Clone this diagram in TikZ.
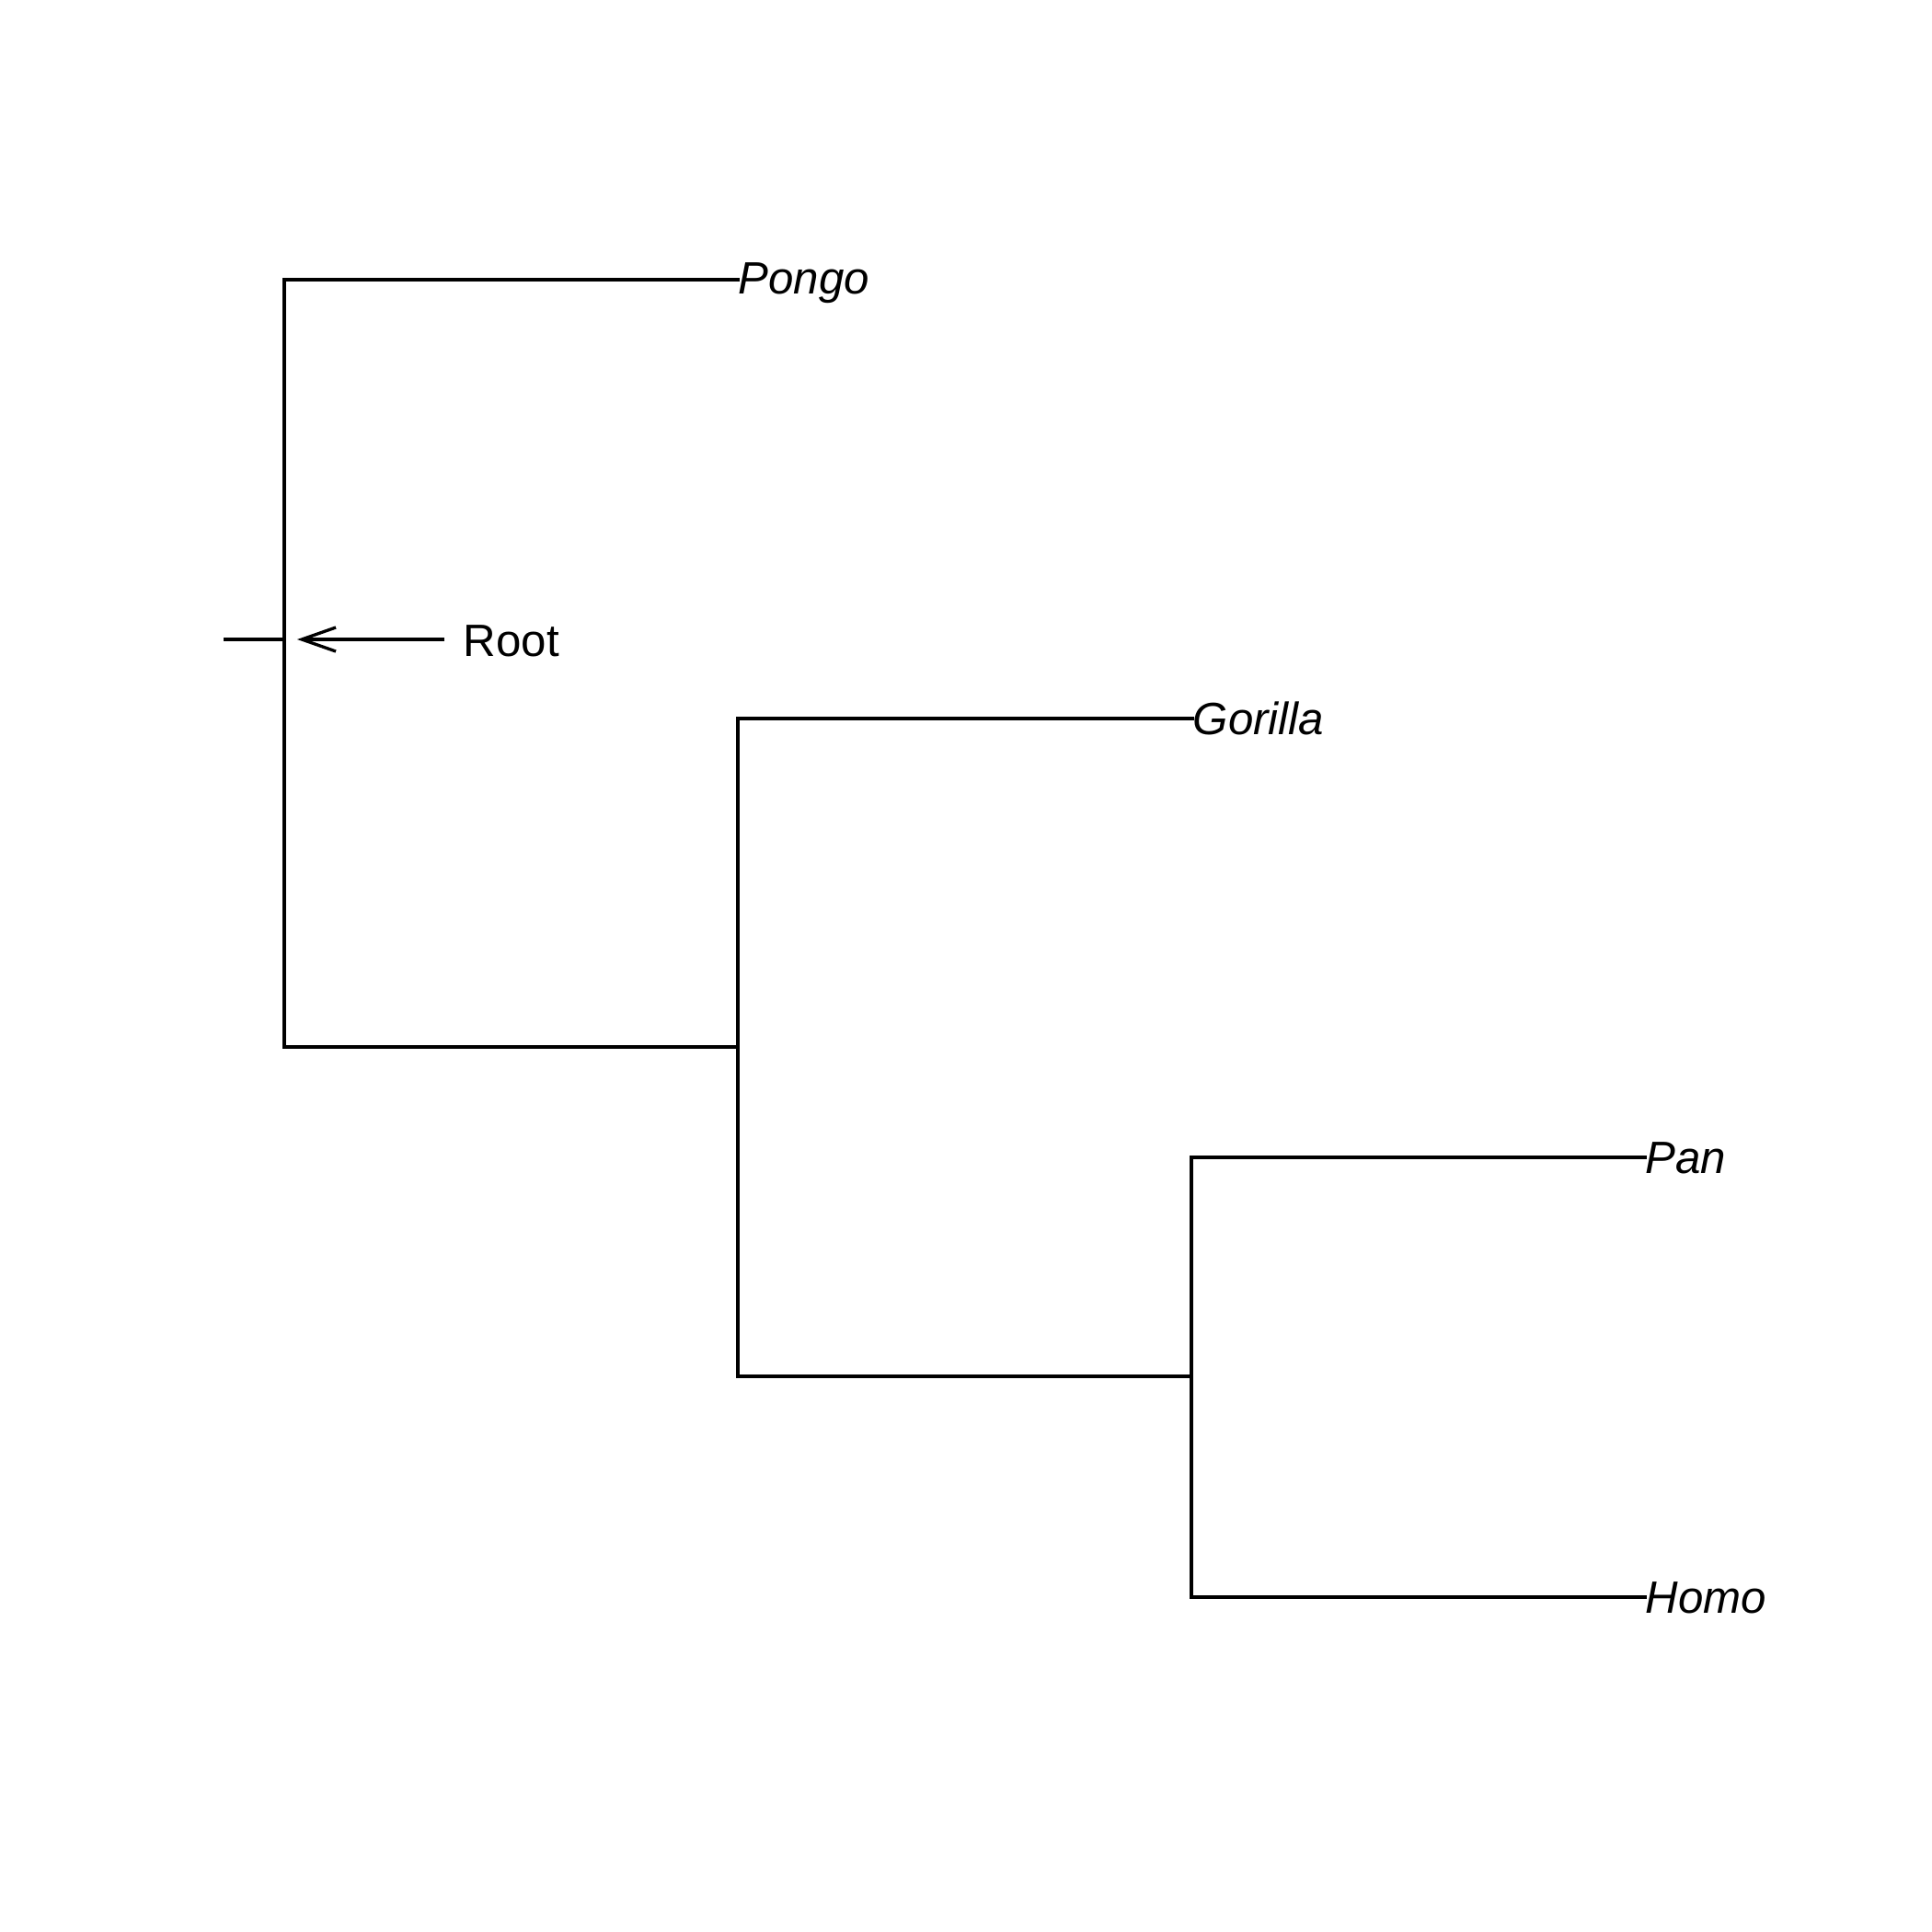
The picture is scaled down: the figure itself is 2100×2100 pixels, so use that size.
\documentclass[tikz,border=0pt]{standalone}
\usepackage{fontspec}
\setmainfont{Liberation Sans}
\usetikzlibrary{arrows.meta}
\begin{document}
\begin{tikzpicture}[x=0.01cm,y=-0.01cm,
  branch/.style={line width=0.95pt,line cap=rect},
  taxon/.style={anchor=base west,inner sep=0pt,font=\fontsize{14}{16}\selectfont\itshape},
  lbl/.style={anchor=base west,inner sep=0pt,font=\fontsize{14}{16}\selectfont}]
\useasboundingbox (0,0) rectangle (2100,2100);
% coordinates
\coordinate (rootstub) at (245,695);
\coordinate (r) at (309,695);
\coordinate (rtop) at (309,304);
\coordinate (rbot) at (309,1138);
\coordinate (pongo) at (802,304);
\coordinate (n2) at (802,1138);
\coordinate (n2top) at (802,781);
\coordinate (n2bot) at (802,1496);
\coordinate (gorilla) at (1296,781);
\coordinate (n3) at (1295,1496);
\coordinate (n3top) at (1295,1258);
\coordinate (n3bot) at (1295,1736);
\coordinate (pan) at (1788,1258);
\coordinate (homo) at (1788,1736);
\coordinate (arrstart) at (483,695);
\coordinate (arrtip) at (323,695);
% tree
\draw[branch] (rootstub) -- (r);
\draw[branch] (pongo) -- (rtop) -- (rbot) -- (n2);
\draw[branch] (gorilla) -- (n2top) -- (n2bot) -- (n3);
\draw[branch] (pan) -- (n3top) -- (n3bot) -- (homo);
% labels
\node[taxon] (tPongo) at (pongo |- 0,319) {Pongo};
\node[taxon] (tGorilla) at (gorilla |- 0,798) {Gorilla};
\node[taxon] (tPan) at (pan |- 0,1275) {Pan};
\node[taxon] (tHomo) at (homo |- 0,1753) {Homo};
\node[lbl] (tRoot) at (503,713) {Root};
% arrow
\draw[line width=0.95pt,-{Straight Barb[length=3.7mm,width=2.6mm,line width=0.95pt]}] (arrstart) -- (arrtip);
\end{tikzpicture}
\end{document}
